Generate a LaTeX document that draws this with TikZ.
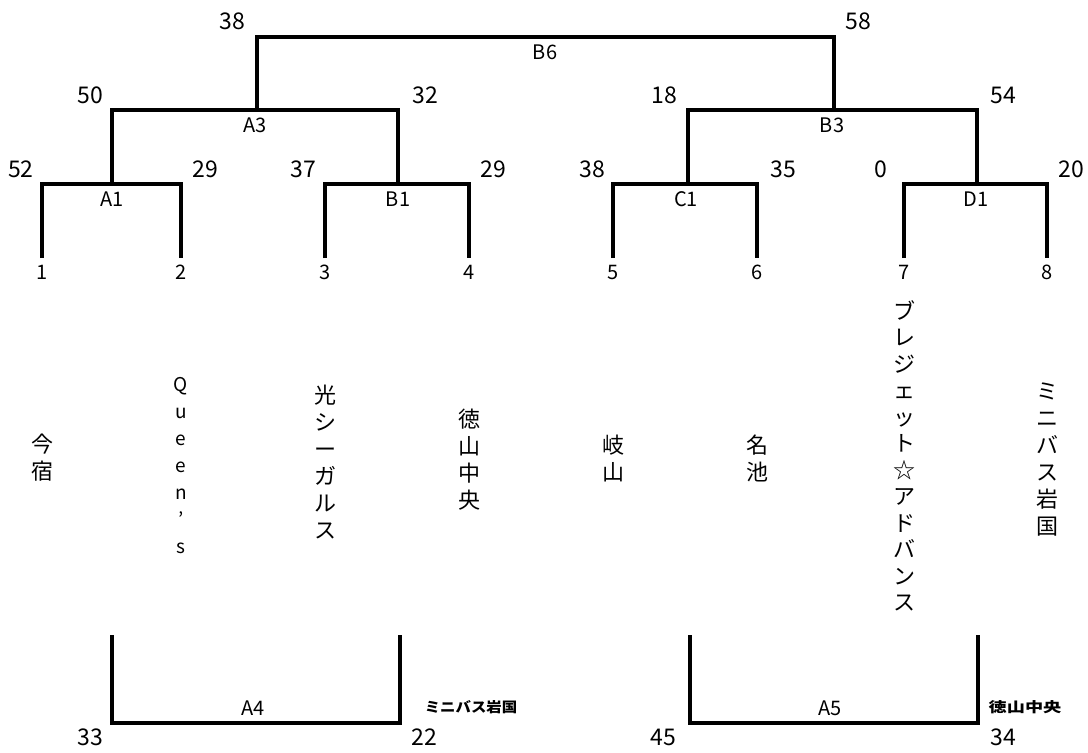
\documentclass[tikz,border=0pt]{standalone}
\usepackage{fontspec}
\setmainfont{Noto Sans CJK JP}

\tikzset{
  bar/.style={line width=4.5pt, line join=miter, line cap=butt},
  score/.style={inner sep=0pt, font=\fontsize{23}{25}\selectfont},
  tag/.style={inner sep=0pt, font=\fontsize{20}{22}\selectfont},
  seed/.style={inner sep=0pt, font=\fontsize{20}{22}\selectfont},
  team/.style={inner sep=0pt, align=center, font=\fontsize{22}{27}\selectfont},
  winner/.style={inner sep=0pt, font=\fontsize{14}{16}\selectfont\bfseries}
}

\begin{document}
\begin{tikzpicture}[x=1pt,y=-1pt]
\useasboundingbox (0,0) rectangle (1088,753);

% leaf ends and junctions
\coordinate (l1) at (42,258);
\coordinate (l2) at (181,258);
\coordinate (l3) at (325,258);
\coordinate (l4) at (469,258);
\coordinate (l5) at (613,258);
\coordinate (l6) at (757,258);
\coordinate (l7) at (904,258);
\coordinate (l8) at (1047,258);
\coordinate (jA1) at (112,184);
\coordinate (jB1) at (398,184);
\coordinate (jC1) at (688,184);
\coordinate (jD1) at (977,184);
\coordinate (jA3) at (257,110);
\coordinate (jB3) at (834,110);
\coordinate (jB6) at (545,37);

% first round
\draw[bar] (l1) |- (jA1) -| (l2);
\draw[bar] (l3) |- (jB1) -| (l4);
\draw[bar] (l5) |- (jC1) -| (l6);
\draw[bar] (l7) |- (jD1) -| (l8);

% second round and final
\draw[bar] (jA1) |- (jA3) -| (jB1);
\draw[bar] (jC1) |- (jB3) -| (jD1);
\draw[bar] (jA3) |- (jB6) -| (jB3);

% match names
\node[tag] (tB6) at (545,52) {B6};
\node[tag] (tA3) at (255,125) {A3};
\node[tag] (tB3) at (832,125) {B3};
\node[tag] (tA1) at (112,199) {A1};
\node[tag] (tB1) at (398,199) {B1};
\node[tag] (tC1) at (686,199) {C1};
\node[tag] (tD1) at (976,199) {D1};

% scores
\node[score] (s1) at (232,21) {38};
\node[score] (s2) at (858,21) {58};
\node[score] (s3) at (90,95) {50};
\node[score] (s4) at (425,95) {32};
\node[score] (s5) at (664,95) {18};
\node[score] (s6) at (1003,95) {54};
\node[score] (s7) at (21,169) {52};
\node[score] (s8) at (205,169) {29};
\node[score] (s9) at (303,169) {37};
\node[score] (s10) at (493,169) {29};
\node[score] (s11) at (592,169) {38};
\node[score] (s12) at (783,169) {35};
\node[score] (s13) at (881,169) {0};
\node[score] (s14) at (1071,169) {20};

% seeds
\foreach \i in {1,...,8}
  \node[seed] (n\i) at ([yshift=-14pt]l\i) {\i};

% teams, written top to bottom
\node[team] (t1) at (42,458) {今\\宿};
\node[team, font=\fontsize{19}{27}\selectfont] (t2) at (181,466) {Q\\u\\e\\e\\n\\’\\s};
\node[team] (t3) at (325,462) {光\\シ\\ー\\ガ\\ル\\ス};
\node[team] (t4) at (469,460) {徳\\山\\中\\央};
\node[team] (t5) at (613,458) {岐\\山};
\node[team] (t6) at (757,458) {名\\池};
\node[team, font=\fontsize{22}{26.5}\selectfont] (t7) at (904,456) {ブ\\レ\\ジ\\ェ\\ッ\\ト\\☆\\ア\\ド\\バ\\ン\\ス};
\node[team] (t8) at (1047,460) {ミ\\ニ\\バ\\ス\\岩\\国};

% placement matches
\coordinate (a4l) at (112,635);
\coordinate (a4r) at (400,635);
\coordinate (a4m) at (256,723);
\coordinate (a5l) at (690,635);
\coordinate (a5r) at (978,635);
\coordinate (a5m) at (834,723);
\draw[bar] (a4l) |- (a4m) -| (a4r);
\draw[bar] (a5l) |- (a5m) -| (a5r);
\node[tag] (tA4) at (253,708) {A4};
\node[tag] (tA5) at (830,708) {A5};
\node[score] (s15) at (90,737) {33};
\node[score] (s16) at (424,737) {22};
\node[score] (s17) at (663,737) {45};
\node[score] (s18) at (1003,737) {34};
\node[winner, xscale=1.1, transform shape] (w1) at (471,707) {ミニバス岩国};
\node[winner, xscale=1.3, transform shape] (w2) at (1025,707) {徳山中央};

\end{tikzpicture}
\end{document}
